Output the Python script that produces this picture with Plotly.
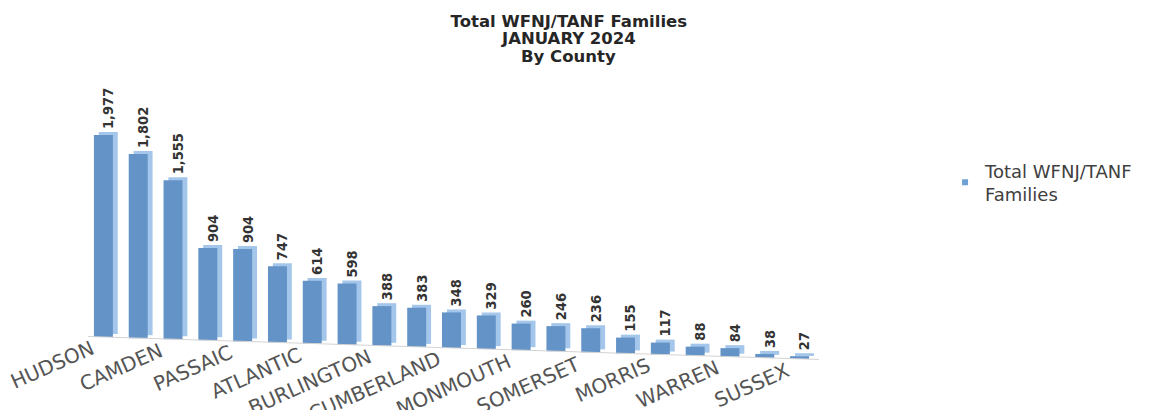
import plotly.graph_objects as go

# ---- data ----
counties = ["HUDSON", "ESSEX", "CAMDEN", "MERCER", "PASSAIC", "UNION", "ATLANTIC",
            "MIDDLESEX", "BURLINGTON", "OCEAN", "CUMBERLAND", "GLOUCESTER", "MONMOUTH",
            "BERGEN", "SOMERSET", "SALEM", "MORRIS", "CAPE MAY", "WARREN", "HUNTERDON", "SUSSEX"]
families = [1977, 1802, 1555, 904, 904, 747, 614, 598, 388, 383, 348, 329, 260,
            246, 236, 155, 117, 88, 84, 38, 27]
series_name = "Total WFNJ/TANF Families"
title_main = "Total WFNJ/TANF Families"
title_sub = ["JANUARY 2024", "By County"]

# ---- style (pseudo-3D perspective) ----
tilt = 10.7      # floor slope per category (value units)
lift = 29        # depth lift of the side/top face (value units)
front_col = "#6393C7"
side_col = "#A4C6EA"
n = len(counties)
idx = list(range(n))
bases = [-tilt * i for i in idx]
text_labels = [f"{v:,}" for v in families]
title_font = dict(family="DejaVu Sans", size=16.5, color="#262626", weight="bold")

fig = go.Figure()

# floor line
fig.add_trace(go.Scatter(
    x=[-0.55, n - 0.45], y=[tilt * 0.55, -tilt * (n - 0.45)],
    mode="lines", line=dict(color="#D3D3D3", width=1),
    hoverinfo="skip", showlegend=False))

# side / top face
fig.add_trace(go.Bar(
    x=idx, y=families, base=[b + lift for b in bases],
    width=0.545, offset=-0.19, marker=dict(color=side_col, line=dict(width=0)),
    text=text_labels, textposition="outside", textangle=-90,
    constraintext="none", cliponaxis=False,
    textfont=dict(family="DejaVu Sans Condensed, DejaVu Sans",
                  size=14.5, color="#333333", weight="bold"),
    showlegend=False, hoverinfo="skip"))

# front face
fig.add_trace(go.Bar(
    x=idx, y=families, base=bases,
    width=0.545, offset=-0.33, marker=dict(color=front_col, line=dict(width=0)),
    showlegend=False, name=series_name))

# legend entry
fig.add_trace(go.Scatter(
    x=[None], y=[None], mode="markers", name="Total WFNJ/TANF<br>Families",
    marker=dict(symbol="square", size=6, color="#6FA0D6")))

# category labels along the tilted floor
for i in idx[::2]:
    fig.add_annotation(
        x=i, y=bases[i], xref="x", yref="y", text=counties[i],
        showarrow=False, textangle=-24, xanchor="right", yanchor="top",
        xshift=-6, yshift=4,
        font=dict(family="DejaVu Sans", size=20, color="#555555"))

# title sub-lines
for txt, yy in zip(title_sub, [1.225, 1.164]):
    fig.add_annotation(
        x=0.658, y=yy, xref="paper", yref="paper", text=txt, showarrow=False,
        xanchor="center", yanchor="middle", font=title_font)

fig.update_layout(
    width=1154, height=410,
    margin=dict(l=80, r=343, t=94, b=36),
    paper_bgcolor="white", plot_bgcolor="white",
    barmode="overlay",
    title=dict(text=title_main, x=0.486, xref="container", xanchor="center",
               y=0.968, yanchor="middle", font=title_font),
    xaxis=dict(range=[-0.5, n - 0.5], visible=False, fixedrange=True),
    yaxis=dict(range=[-440, 2300], visible=False, fixedrange=True),
    legend=dict(xref="container", yref="container", x=0.812, y=0.648,
                xanchor="left", yanchor="top",
                font=dict(family="DejaVu Sans", size=18, color="#404040"),
                bgcolor="rgba(0,0,0,0)"),
    showlegend=True,
)

fig.write_html("out.html")
